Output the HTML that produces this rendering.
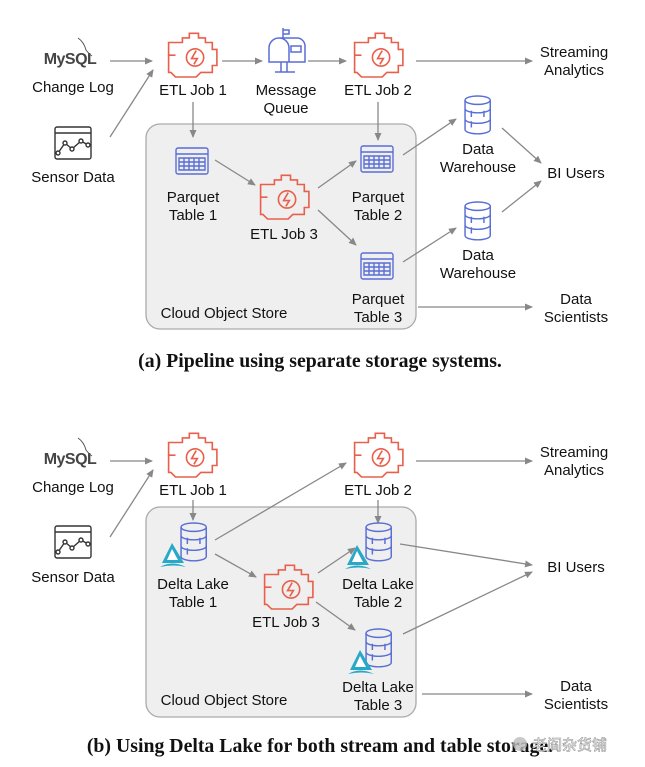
<!DOCTYPE html>
<html><head><meta charset="utf-8"><style>
html,body{margin:0;padding:0;background:#fff;}
svg{display:block}
.t{font-family:"Liberation Sans",sans-serif;font-size:15px;fill:#111;text-anchor:middle}
.c{font-family:"Liberation Serif",serif;font-size:19.8px;font-weight:bold;fill:#111;text-anchor:middle}
.a{stroke:#888;stroke-width:1.3;fill:none;marker-end:url(#ah)}
</style></head><body>
<svg width="645" height="767" viewBox="0 0 645 767" xmlns="http://www.w3.org/2000/svg">
<defs>
<marker id="ah" markerWidth="8" markerHeight="8" refX="7" refY="4" orient="auto" markerUnits="userSpaceOnUse"><path d="M0,0.5 L8,4 L0,7.5 z" fill="#888"/></marker>
<g id="eng0" fill="none" stroke="#e8604c" stroke-width="1.4">
<path d="M4,14 v14 M4,21 h6 M10,10 h6 v-4 h6 v-4 h8 v4 h6 v4 h6 v6 h4 v14 h-4 v6 h-10 l-4,4 h-18 l-4,-4 h-2 v-26 z"/>
<circle cx="27" cy="23" r="7.5"/><path d="M28,17 l-4,7 h5 l-3,5"/>
</g>
<g id="eng"><use href="#eng0" transform="scale(1.15)"/></g>
<g id="mb" fill="none" stroke="#5a6fd6" stroke-width="1.5">
<path d="M18,0 v10 M18,2 h6 v4 h-6"/><path d="M4,34 v-14 a10,10 0 0 1 20,0 v14 z M14,10 h18 a8,8 0 0 1 8,8 v16 h-16"/><rect x="26" y="18" width="10" height="6"/><path d="M16,34 v10 M22,34 v10 M10,44 h20"/>
</g>
<g id="pq" fill="none" stroke="#5a6fd6" stroke-width="1.4">
<rect x="0" y="0" width="32" height="26" rx="2"/><path d="M0,6 h32 M3,10 h26 v12 h-26 z M3,14 h26 M3,18 h26 M8,10 v12 M13,10 v12 M18,10 v12 M23,10 v12"/>
</g>
<g id="cy0" fill="none" stroke="#5a6fd6" stroke-width="1.4">
<ellipse cx="13" cy="4" rx="12" ry="4"/><path d="M1,4 v28 a12,4 0 0 0 24,0 v-28 M25,12 a12,4 0 0 1 -24,0 M25,22 a12,4 0 0 1 -24,0 M7,14 v6 M7,24 v6 M19,14 v6"/>
</g>
<g id="cy"><use href="#cy0" transform="scale(1.05)"/></g>
<g id="lake" fill="#2aa8c8"><path d="M10,0 l12,20 h-22 z"/><path d="M10,6 l6,11 h-11 z" fill="#fff"/><path d="M-2,24 q12,-7 26,0 q-12,-3 -26,0z"/></g>
<g id="sen" fill="none" stroke="#333" stroke-width="1.4"><rect x="0" y="0" width="36" height="32" rx="2"/><path d="M0,6 h36"/><path d="M3,26 L10,16 L17,22 L26,14 L33,18"/><circle cx="3" cy="26" r="2" fill="#fff"/><circle cx="10" cy="16" r="2" fill="#fff"/><circle cx="17" cy="22" r="2" fill="#fff"/><circle cx="26" cy="14" r="2" fill="#fff"/><circle cx="33" cy="18" r="2" fill="#fff"/></g>
<g id="my"><text x="26" y="30" style="font-family:'Liberation Sans',sans-serif;font-size:16px;font-weight:bold;fill:#444;text-anchor:middle;letter-spacing:-0.5px">MySQL</text><path d="M34,4 q6,4 8,12 q3,4 6,6" fill="none" stroke="#555" stroke-width="1"/></g>
</defs>

<!-- ===== Panel A ===== -->
<rect x="146" y="124" width="270" height="205" rx="14" fill="#efefef" stroke="#aaa" stroke-width="1.3"/>
<use href="#my" x="44" y="34"/>
<text class="t" x="73" y="92">Change Log</text>
<use href="#sen" x="55" y="127"/>
<text class="t" x="73" y="182">Sensor Data</text>
<use href="#eng" x="164" y="31"/>
<text class="t" x="193" y="95">ETL Job 1</text>
<use href="#mb" x="265" y="28"/>
<text class="t" x="286" y="95">Message</text><text class="t" x="286" y="113">Queue</text>
<use href="#eng" x="350" y="31"/>
<text class="t" x="378" y="95">ETL Job 2</text>
<text class="t" x="574" y="57">Streaming</text><text class="t" x="574" y="75">Analytics</text>
<line class="a" x1="110" y1="61" x2="152" y2="61"/>
<line class="a" x1="110" y1="137" x2="153" y2="70"/>
<line class="a" x1="222" y1="61" x2="262" y2="61"/>
<line class="a" x1="308" y1="61" x2="346" y2="61"/>
<line class="a" x1="416" y1="61" x2="532" y2="61"/>
<line class="a" x1="193" y1="102" x2="193" y2="137"/>
<line class="a" x1="378" y1="102" x2="378" y2="140"/>
<use href="#pq" x="176" y="148"/>
<text class="t" x="193" y="202">Parquet</text><text class="t" x="193" y="220">Table 1</text>
<use href="#eng" x="256" y="173"/>
<text class="t" x="284" y="239">ETL Job 3</text>
<use href="#pq" x="361" y="146"/>
<text class="t" x="378" y="202">Parquet</text><text class="t" x="378" y="220">Table 2</text>
<use href="#pq" x="361" y="253"/>
<text class="t" x="378" y="304">Parquet</text><text class="t" x="378" y="322">Table 3</text>
<text class="t" x="224" y="318">Cloud Object Store</text>
<line class="a" x1="215" y1="160" x2="255" y2="185"/>
<line class="a" x1="318" y1="188" x2="356" y2="161"/>
<line class="a" x1="318" y1="210" x2="356" y2="245"/>
<use href="#cy" x="464" y="96"/>
<text class="t" x="478" y="154">Data</text><text class="t" x="478" y="172">Warehouse</text>
<use href="#cy" x="464" y="202"/>
<text class="t" x="478" y="260">Data</text><text class="t" x="478" y="278">Warehouse</text>
<line class="a" x1="403" y1="155" x2="456" y2="119"/>
<line class="a" x1="403" y1="262" x2="456" y2="228"/>
<line class="a" x1="502" y1="128" x2="541" y2="163"/>
<line class="a" x1="502" y1="212" x2="541" y2="181"/>
<text class="t" x="576" y="178">BI Users</text>
<line class="a" x1="418" y1="307" x2="532" y2="307"/>
<text class="t" x="576" y="304">Data</text><text class="t" x="576" y="322">Scientists</text>
<text class="c" x="320" y="367">(a) Pipeline using separate storage systems.</text>

<!-- ===== Panel B ===== -->
<rect x="146" y="507" width="270" height="210" rx="14" fill="#efefef" stroke="#aaa" stroke-width="1.3"/>
<use href="#my" x="44" y="434"/>
<text class="t" x="73" y="492">Change Log</text>
<use href="#sen" x="55" y="526"/>
<text class="t" x="73" y="582">Sensor Data</text>
<use href="#eng" x="164" y="431"/>
<text class="t" x="193" y="495">ETL Job 1</text>
<use href="#eng" x="350" y="431"/>
<text class="t" x="378" y="495">ETL Job 2</text>
<text class="t" x="574" y="457">Streaming</text><text class="t" x="574" y="475">Analytics</text>
<line class="a" x1="110" y1="461" x2="152" y2="461"/>
<line class="a" x1="110" y1="537" x2="153" y2="470"/>
<line class="a" x1="416" y1="461" x2="532" y2="461"/>
<line class="a" x1="193" y1="500" x2="193" y2="520"/>
<line class="a" x1="378" y1="500" x2="378" y2="523"/>
<use href="#cy" x="180" y="523"/><use href="#lake" x="162" y="543"/>
<text class="t" x="193" y="589">Delta Lake</text><text class="t" x="193" y="607">Table 1</text>
<use href="#eng" x="260" y="563"/>
<text class="t" x="286" y="627">ETL Job 3</text>
<use href="#cy" x="365" y="523"/><use href="#lake" x="347" y="545"/>
<text class="t" x="378" y="589">Delta Lake</text><text class="t" x="378" y="607">Table 2</text>
<use href="#cy" x="365" y="629"/><use href="#lake" x="350" y="650"/>
<text class="t" x="378" y="692">Delta Lake</text><text class="t" x="378" y="710">Table 3</text>
<text class="t" x="224" y="705">Cloud Object Store</text>
<line class="a" x1="215" y1="540" x2="346" y2="463"/>
<line class="a" x1="215" y1="554" x2="256" y2="577"/>
<line class="a" x1="318" y1="573" x2="355" y2="548"/>
<line class="a" x1="316" y1="602" x2="355" y2="630"/>
<line class="a" x1="400" y1="544" x2="532" y2="565"/>
<line class="a" x1="403" y1="634" x2="532" y2="572"/>
<text class="t" x="576" y="572">BI Users</text>
<line class="a" x1="422" y1="694" x2="532" y2="694"/>
<text class="t" x="576" y="691">Data</text><text class="t" x="576" y="709">Scientists</text>
<text class="c" x="320" y="752">(b) Using Delta Lake for both stream and table storage.</text>
<circle cx="520" cy="744" r="7" fill="#bbb" opacity="0.8"/>
<text x="532" y="750" style="font-family:'Liberation Sans','Noto Sans CJK SC',sans-serif;font-size:15px;fill:#fff;stroke:#999;stroke-width:0.6">老阎杂货铺</text>
</svg>
</body></html>
